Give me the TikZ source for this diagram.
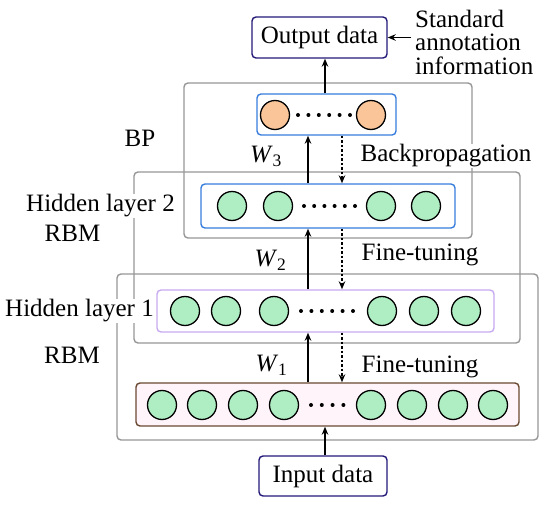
\documentclass[tikz,border=0pt]{standalone}
\usepackage{fontspec}
\setmainfont{Liberation Serif}
\usetikzlibrary{arrows.meta}

\definecolor{grpgray}{RGB}{150,150,150}
\definecolor{navyline}{RGB}{35,25,120}
\definecolor{blueline}{RGB}{55,125,220}
\definecolor{lilacline}{RGB}{200,170,240}
\definecolor{brownline}{RGB}{105,72,50}
\definecolor{unitgreen}{RGB}{174,238,194}
\definecolor{unitorange}{RGB}{250,197,152}
\definecolor{pinkfill}{RGB}{255,244,249}

\begin{document}
\begin{tikzpicture}[x=1pt, y=-1pt,
    group/.style={draw=grpgray, line width=1.4pt, rounded corners=4pt, inner sep=0pt},
    layer/.style={draw, line width=1.4pt, rounded corners=4pt, fill=white, inner sep=0pt},
    databox/.style={draw=navyline, line width=1.4pt, rounded corners=4pt, fill=white,
        font=\fontsize{25}{23.5}\selectfont, inner sep=0pt},
    unit/.style={circle, draw=black, line width=1.3pt, minimum size=29pt, inner sep=0pt, fill=unitgreen},
    lbl/.style={font=\fontsize{25}{23.5}\selectfont, inner sep=1pt, fill=white, anchor=base},
    arrow/.style={-{Stealth[length=8pt,width=6.5pt]}, line width=1.3pt},
    backarrow/.style={arrow, dash pattern=on 2.5pt off 2pt}
]
\useasboundingbox (0,0) rectangle (550,508);

% Grey groups
\node[group, minimum width=288pt, minimum height=155pt] (bp) at (328,160.5) {};
\node[group, minimum width=386pt, minimum height=171pt] (rbmtwo) at (327,257.5) {};
\node[group, minimum width=421pt, minimum height=166pt] (rbmone) at (327.5,357) {};

% Data boxes
\node[databox, minimum width=135pt, minimum height=41pt] (outdata) at (319.5,37.5) {Output data};
\node[databox, minimum width=128pt, minimum height=40pt] (indata) at (323,476) {Input data};
\node[font=\fontsize{25}{23.5}\selectfont, align=left, anchor=west, inner sep=0pt] (annot) at (415,42)
    {Standard\\annotation\\information};

% Layers
\node[layer, draw=blueline, minimum width=139pt, minimum height=41pt] (toplayer) at (326.5,114.5) {};
\node[layer, draw=blueline, minimum width=254pt, minimum height=44pt] (hidtwo) at (328,206) {};
\node[layer, draw=lilacline, minimum width=337pt, minimum height=42pt] (hidone) at (325.5,311) {};
\node[layer, draw=brownline, fill=pinkfill, minimum width=383pt, minimum height=43pt] (inlayer) at (327.5,404.5) {};

% Units
\foreach \x [count=\i] in {275,371}
    \node[unit, fill=unitorange] (o\i) at (\x,115) {};
\foreach \x [count=\i] in {232,278,381,426}
    \node[unit] (h\i) at (\x,206) {};
\foreach \x [count=\i] in {185,226,274,382,424,466}
    \node[unit] (g\i) at (\x,311) {};
\foreach \x [count=\i] in {162,202,243,284,371,412,453,493}
    \node[unit] (v\i) at (\x,405) {};

% Dots
\foreach \i in {0,...,5} \fill ({298+10.4*\i},115) circle (2pt);
\foreach \i in {0,...,5} \fill ({304+10.2*\i},206) circle (2pt);
\foreach \i in {0,...,5} \fill ({301+10.4*\i},311) circle (2pt);
\foreach \i in {0,...,3} \fill ({311+10.8*\i},405) circle (2pt);

% Labels
\node[lbl] (bplbl) at (140,147) {BP};
\node[lbl] (hidtwolbl) at (100.5,212) {Hidden layer 2};
\node[lbl] (rbmtwolbl) at (72.5,242) {RBM};
\node[lbl] (hidonelbl) at (79.5,317) {Hidden layer 1};
\node[lbl] (rbmonelbl) at (72,363) {RBM};
\node[lbl] (wthree) at (266,163) {\textit{W}\textsubscript{3}};
\node[lbl] (wtwo) at (270.5,267) {\textit{W}\textsubscript{2}};
\node[lbl] (wone) at (271.5,372) {\textit{W}\textsubscript{1}};
\node[lbl] (bplabel) at (446,162) {Backpropagation};
\node[lbl] (finetwo) at (420,261) {Fine-tuning};
\node[lbl] (fineone) at (420,373) {Fine-tuning};

% Arrow columns
\coordinate (up) at (308,0);
\coordinate (dn) at (342,0);
\coordinate (io) at (325,0);

% Arrows
\draw[arrow] (indata.north -| io) -- (inlayer.south -| io);
\draw[arrow] (toplayer.north -| io) -- (outdata.south -| io);
\draw[arrow] ([xshift=-4pt]annot.west |- outdata.east) -- (outdata.east);
\draw[arrow] (inlayer.north -| up) -- (hidone.south -| up);
\draw[arrow] (hidone.north -| up) -- (hidtwo.south -| up);
\draw[arrow] (hidtwo.north -| up) -- (toplayer.south -| up);
\draw[backarrow] (toplayer.south -| dn) -- (hidtwo.north -| dn);
\draw[backarrow] (hidtwo.south -| dn) -- (hidone.north -| dn);
\draw[backarrow] (hidone.south -| dn) -- (inlayer.north -| dn);
\end{tikzpicture}
\end{document}
